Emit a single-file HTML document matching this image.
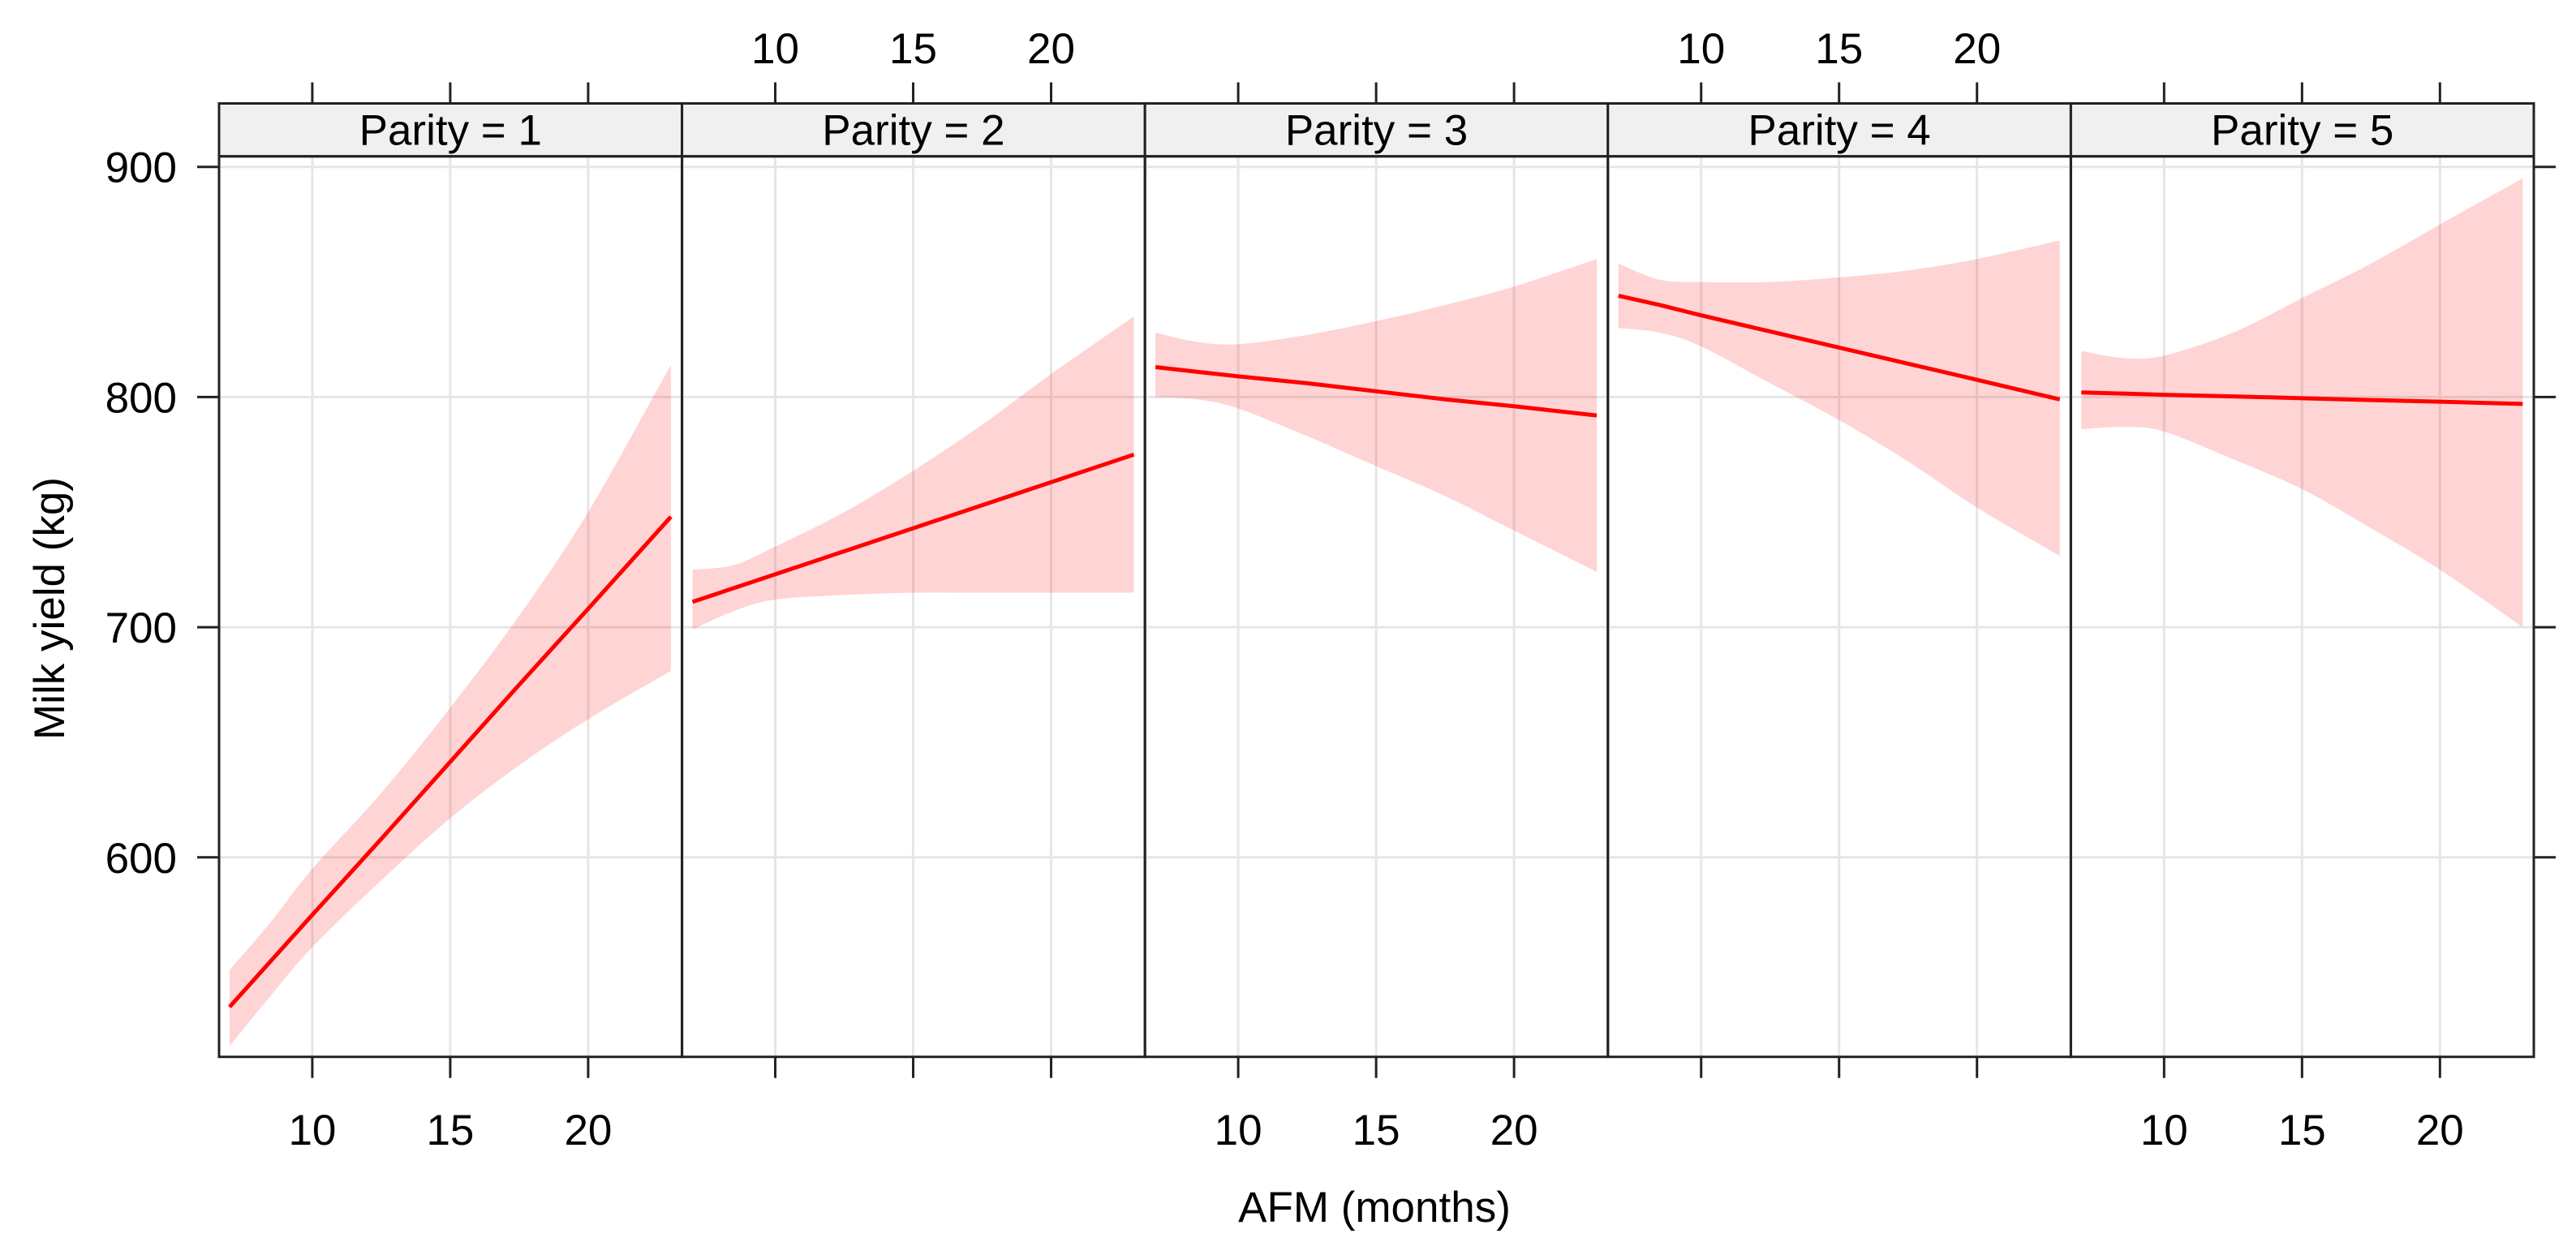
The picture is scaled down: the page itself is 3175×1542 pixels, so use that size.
<!DOCTYPE html>
<html><head><meta charset="utf-8"><style>
html,body{margin:0;padding:0;background:#fff;}
svg{display:block;font-family:"Liberation Sans",Arial,sans-serif;}
</style></head><body>
<svg id="chart" width="3175" height="1542" viewBox="0 0 3175 1542" xmlns="http://www.w3.org/2000/svg"></svg>
<script>
const panels = ["Parity = 1","Parity = 2","Parity = 3","Parity = 4","Parity = 5"];
const xPoints = [7, 8.5, 10, 12.5, 15, 17.5, 20, 23];
const fitP1 = [535, 555, 575, 608, 641.5, 675, 708, 748];
const fitP2 = [711, 717, 723, 733, 743, 753, 763, 775];
const fitP3 = [813, 811, 809, 806, 802.5, 799, 796, 792];
const fitP4 = [844, 840, 835.5, 828.5, 821.5, 814.5, 807.5, 799];
const fitP5 = [802, 801.5, 801, 800.3, 799.5, 798.7, 798, 797];
const upperP1 = [551, 572, 595, 628, 665, 705, 750, 814];
const upperP2 = [725, 727, 735, 750, 768, 788, 810, 835];
const upperP3 = [828, 824, 823, 827, 833, 840, 848, 860];
const upperP4 = [858, 851, 850, 850, 852, 855, 860, 868];
const upperP5 = [820, 817, 818, 828, 843, 858, 875, 895];
const lowerP1 = [518, 540, 561, 590, 617, 640, 660, 681];
const lowerP2 = [699, 707, 712, 714, 715, 715, 715, 715];
const lowerP3 = [800, 799, 795, 783, 770, 757, 742, 724];
const lowerP4 = [830, 828, 822, 806, 790, 772, 752, 731];
const lowerP5 = [786, 787, 785, 773, 760, 743, 725, 700];
const xTicks = [10, 15, 20];
const yTicks = [600, 700, 800, 900];

const fits=[fitP1,fitP2,fitP3,fitP4,fitP5];
const uppers=[upperP1,upperP2,upperP3,upperP4,upperP5];
const lowers=[lowerP1,lowerP2,lowerP3,lowerP4,lowerP5];

const svg=document.getElementById('chart');
const NS='http://www.w3.org/2000/svg';
function mk(tag,attrs,parent){const e=document.createElementNS(NS,tag);for(const k in attrs)e.setAttribute(k,attrs[k]);(parent||svg).appendChild(e);return e;}

const P0=270, PW=570.6, TOP=192.7, BOT=1302.7, STRIPTOP=127.5;
const XMIN=6.62, XMAX=6.62+PW/34.0, YMIN=513.3, YMAX=904.6;
function sx(i,v){return P0+i*PW+(v-XMIN)/(XMAX-XMIN)*PW;}
function sy(v){return BOT-(v-YMIN)/(YMAX-YMIN)*(BOT-TOP);}
function smooth(pts,start){
  let d=start?('M'+pts[0][0]+','+pts[0][1]):('L'+pts[0][0]+','+pts[0][1]);
  for(let k=0;k<pts.length-1;k++){
    const p0=pts[Math.max(k-1,0)],p1=pts[k],p2=pts[k+1],p3=pts[Math.min(k+2,pts.length-1)];
    const c1=[p1[0]+(p2[0]-p0[0])/6,p1[1]+(p2[1]-p0[1])/6];
    const c2=[p2[0]-(p3[0]-p1[0])/6,p2[1]-(p3[1]-p1[1])/6];
    d+=' C'+c1[0]+','+c1[1]+' '+c2[0]+','+c2[1]+' '+p2[0]+','+p2[1];
  }
  return d;
}

for(let i=0;i<panels.length;i++){
  const g=mk('g',{});
  
  
  const L=P0+i*PW;
  yTicks.forEach(t=>{const l=mk('line',{x1:L,x2:L+PW,y1:sy(t),y2:sy(t),stroke:'#e6e6e6','stroke-width':3},g);
    
    });
  xTicks.forEach(t=>{const l=mk('line',{x1:sx(i,t),x2:sx(i,t),y1:TOP,y2:BOT,stroke:'#e6e6e6','stroke-width':3},g);
    
    });
  const up=xPoints.map((x,j)=>[sx(i,x),sy(uppers[i][j])]);
  const lo=xPoints.map((x,j)=>[sx(i,x),sy(lowers[i][j])]).reverse();
  const band=mk('path',{d:smooth(up,true)+' '+smooth(lo,false)+' Z',fill:'#ff0000','fill-opacity':0.17,stroke:'none'},g);
  
  
  const lp=xPoints.map((x,j)=>sx(i,x)+','+sy(fits[i][j])).join(' ');
  const line=mk('polyline',{points:lp,fill:'none',stroke:'#ff0000','stroke-width':5},g);
  
  
  const s=mk('rect',{x:L,y:STRIPTOP,width:PW,height:TOP-STRIPTOP,fill:'#f0f0f0',stroke:'#222','stroke-width':3},g);
  
  
  const st=mk('text',{x:L+PW/2,y:STRIPTOP+51,'text-anchor':'middle','font-size':53,fill:'#000'},g);
  st.textContent=panels[i];
  
  
  const b=mk('rect',{x:L,y:TOP,width:PW,height:BOT-TOP,fill:'none',stroke:'#222','stroke-width':3},g);
  
  
  xTicks.forEach(t=>{
    const x=sx(i,t);
    mk('line',{x1:x,x2:x,y1:BOT,y2:BOT+26,stroke:'#222','stroke-width':3},g);
    mk('line',{x1:x,x2:x,y1:STRIPTOP,y2:STRIPTOP-26,stroke:'#222','stroke-width':3},g);
    if(i%2===0){const tl=mk('text',{x:x,y:1411,'text-anchor':'middle','font-size':53},g);tl.textContent=t;
      
      }
    else{const tl=mk('text',{x:x,y:78,'text-anchor':'middle','font-size':53},g);tl.textContent=t;
      
      }
  });
}
const R=P0+5*PW;
yTicks.forEach(t=>{
  mk('line',{x1:P0-27,x2:P0,y1:sy(t),y2:sy(t),stroke:'#222','stroke-width':3});
  mk('line',{x1:R,x2:R+27,y1:sy(t),y2:sy(t),stroke:'#222','stroke-width':3});
  const tl=mk('text',{x:218,y:sy(t)+19,'text-anchor':'end','font-size':53});
  tl.textContent=t;
  
  
});
const xt=mk('text',{x:1694,y:1506,'text-anchor':'middle','font-size':53});
xt.textContent='AFM (months)';


const yt=mk('text',{x:0,y:0,'text-anchor':'middle','font-size':53,transform:'translate(79,750) rotate(-90)'});
yt.textContent='Milk yield (kg)';


</script>
</body></html>
